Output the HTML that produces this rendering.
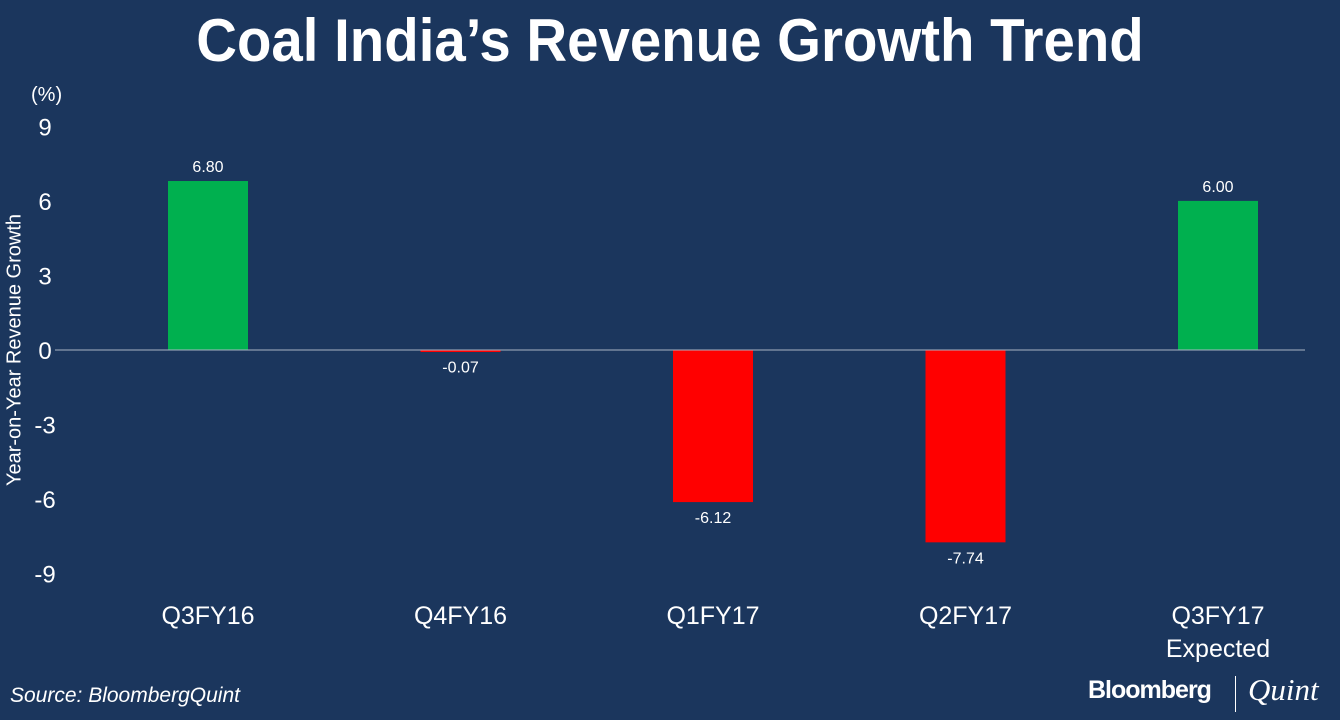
<!DOCTYPE html>
<html><head><meta charset="utf-8"><style>
body{margin:0;width:1340px;height:720px;background:#1b365d;overflow:hidden;font-family:"Liberation Sans",sans-serif;color:#fff;position:relative}
.t{position:absolute;white-space:nowrap}
</style></head><body>
<div class="t" style="left:0;width:1340px;top:6px;text-align:center;font-size:60px;font-weight:bold;"><span style="display:inline-block;transform:scaleX(0.94)">Coal India’s Revenue Growth Trend</span></div>
<div class="t" style="left:31px;top:84px;font-size:20px">(%)</div>
<div class="t" style="left:15px;top:350px;font-size:20px;transform:translate(-50%,-50%) rotate(-90deg)">Year-on-Year Revenue Growth</div>
<svg id="c" width="1340" height="720" style="position:absolute;left:0;top:0"></svg>
<div class="t" style="left:10px;top:684px;font-size:21px;font-style:italic">Source: BloombergQuint</div>
<div class="t" style="left:1088px;top:676px;font-size:25px;font-weight:bold;letter-spacing:-1px">Bloomberg</div>
<div style="position:absolute;left:1235px;top:676px;width:1px;height:36px;background:#fff"></div>
<div class="t" style="left:1248px;top:672px;font-size:31px;font-style:italic;font-family:'Liberation Serif',serif">Quint</div>
<script>
const categories=["Q3FY16","Q4FY16","Q1FY17","Q2FY17","Q3FY17"];
const subLabels=["","","","","Expected"];
const values=[6.80,-0.07,-6.12,-7.74,6.00];
const valueLabels=["6.80","-0.07","-6.12","-7.74","6.00"];
const ticks=[9,6,3,0,-3,-6,-9];
const ns="http://www.w3.org/2000/svg",svg=document.getElementById('c');
const y=v=>350-v*24.85, x=i=>208+i*252.5;
function mk(t,a,txt){const e=document.createElementNS(ns,t);for(const k in a)e.setAttribute(k,a[k]);if(txt!=null)e.textContent=txt;svg.appendChild(e);return e;}
ticks.forEach(t=>{const e=mk('text',{x:45,y:y(t)+9,'text-anchor':'middle',fill:'#fff','font-size':24},String(t));

});
values.forEach((v,i)=>{const top=Math.min(y(v),y(0)),h=Math.max(Math.abs(y(v)-y(0)),2);
const r=mk('rect',{x:x(i)-40,y:top,width:80,height:h,fill:v>=0?'#00b04f':'#ff0000'});


const ly=v>=0?y(v)-9:y(v)+21;
const l=mk('text',{x:x(i),y:ly,'text-anchor':'middle',fill:'#fff','font-size':16},valueLabels[i]);


const c=mk('text',{x:x(i),y:624,'text-anchor':'middle',fill:'#fff','font-size':25},categories[i]);


if(subLabels[i]){const s=mk('text',{x:x(i),y:657,'text-anchor':'middle',fill:'#fff','font-size':25},subLabels[i]);

}
});
const ax=mk('line',{x1:55,x2:1305,y1:y(0),y2:y(0),stroke:'#aab4c4','stroke-width':1});


</script>
</body></html>
